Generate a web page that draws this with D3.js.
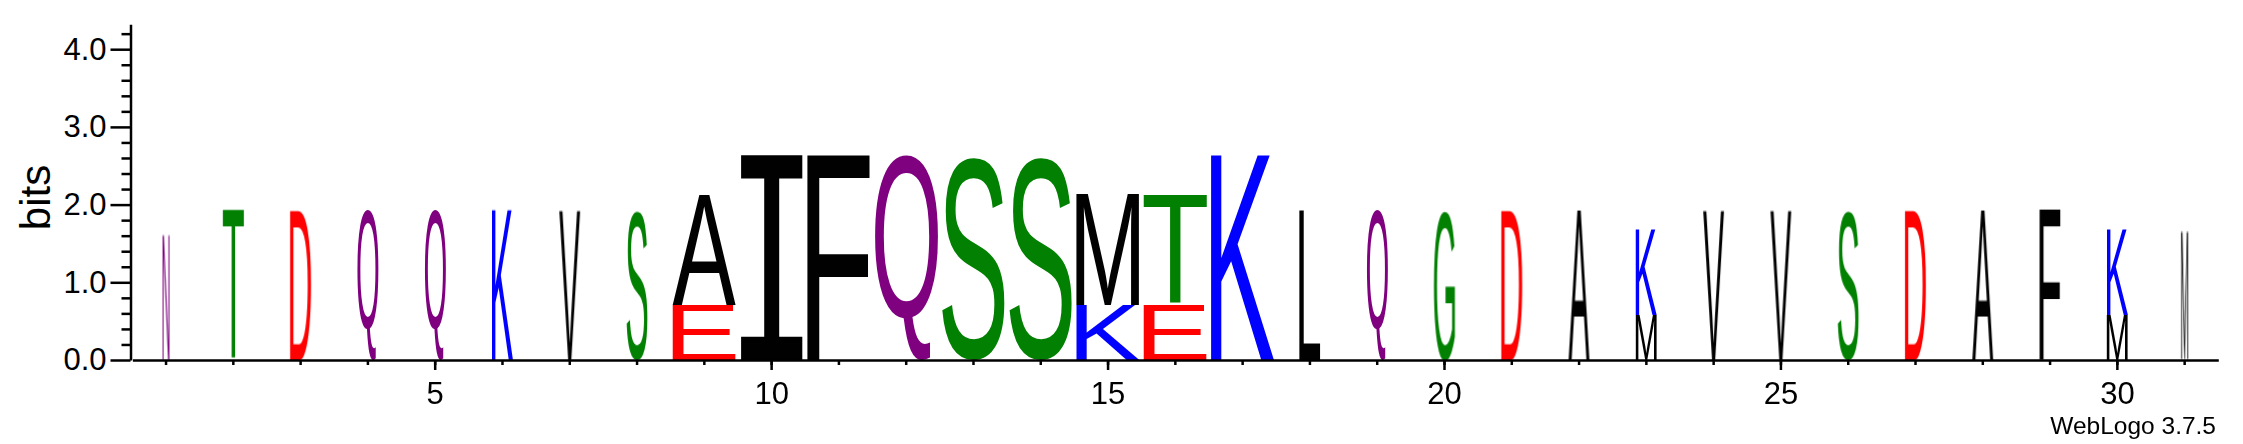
<!DOCTYPE html>
<html>
<head>
<meta charset="utf-8">
<script src="https://cdn.jsdelivr.net/npm/d3@7"></script>
<style>
  body { margin: 0; background: #fff; }
  svg text { font-family: "Liberation Sans", Arial, sans-serif; }
  .axis path, .axis line { stroke: #000; stroke-width: 2.5; }
  .axis text { font-size: 31px; fill: #000; }
</style>
</head>
<body>
<svg id="logo"></svg>
<script>
// sequence positions
const positions = [1, 2, 3, 4, 5, 6, 7, 8, 9, 10, 11, 12, 13, 14, 15, 16,
                   17, 18, 19, 20, 21, 22, 23, 24, 25, 26, 27, 28, 29, 30, 31];

// residues in each stack, bottom to top
const stackSymbols = [
  ["N"], ["T"], ["D"], ["Q"], ["Q"], ["K"], ["V"], ["S"],
  ["E", "A"], ["I"], ["F"], ["Q"], ["S"], ["S"], ["K", "M"], ["E", "T"], ["K"],
  ["L"], ["Q"], ["G"], ["D"], ["A"], ["M", "K"], ["V"], ["V"], ["S"], ["D"],
  ["A"], ["F"], ["M", "K"], ["M"]
];

// height of each residue (bits), same order as stackSymbols
const stackBits = [
  [1.63], [1.93], [1.93], [1.93], [1.93], [1.93], [1.93], [1.93],
  [0.71, 1.42], [2.64], [2.64], [2.64], [2.64], [2.64], [0.71, 1.44], [0.71, 1.41], [2.64],
  [1.93], [1.93], [1.93], [1.93], [1.93], [0.58, 1.11], [1.93], [1.93], [1.93], [1.93],
  [1.93], [1.93], [0.58, 1.11], [1.63]
];

// fraction of non-gap sequences at each position (stack width)
const stackWeights = [
  0.111, 0.333, 0.333, 0.333, 0.333, 0.333, 0.333, 0.333,
  1, 1, 1, 1, 1, 1, 1, 1, 1,
  0.333, 0.333, 0.333, 0.333, 0.333, 0.333, 0.333, 0.333, 0.333, 0.333,
  0.333, 0.333, 0.333, 0.111
];

const yMajorTicks = [0, 1, 2, 3, 4];
const yMinorTicks = [0.2, 0.4, 0.6, 0.8, 1.2, 1.4, 1.6, 1.8, 2.2, 2.4, 2.6, 2.8,
                     3.2, 3.4, 3.6, 3.8, 4.2];
const xLabelTicks = [5, 10, 15, 20, 25, 30];
const maxBits = 4.32;

const residueColor = {
  G: "#008000", S: "#008000", T: "#008000", Y: "#008000", C: "#008000",
  N: "#800080", Q: "#800080",
  K: "#0000ff", R: "#0000ff", H: "#0000ff",
  D: "#ff0000", E: "#ff0000"
};

const W = 2243, H = 444;
const svg = d3.select("#logo").attr("width", W).attr("height", H);

const x = d3.scaleBand().domain(positions).range([132.4, 2218.3]).padding(0);
const y = d3.scaleLinear().domain([0, maxBits]).range([360, 360 - maxBits * 77.7]);

// ink bounds of a glyph, measured on a canvas
const ctx = document.createElement("canvas").getContext("2d");
function glyphFont(ch) {
  return ch === "I" ? '"DejaVu Sans Mono", monospace' : '"Liberation Sans", Arial, sans-serif';
}
function inkBox(ch) {
  ctx.font = `100px ${glyphFont(ch)}`;
  const m = ctx.measureText(ch);
  return {
    left: -m.actualBoundingBoxLeft,
    right: m.actualBoundingBoxRight,
    top: -m.actualBoundingBoxAscent,
    bottom: m.actualBoundingBoxDescent
  };
}

const letters = [];
positions.forEach((p, i) => {
  let acc = 0;
  stackSymbols[i].forEach((s, j) => {
    const b = stackBits[i][j];
    letters.push({ pos: p, sym: s, y0: acc, y1: acc + b, weight: stackWeights[i] });
    acc += b;
  });
});

const stacks = svg.append("g").attr("opacity", 0.999);
stacks.selectAll("text")
  .data(letters)
  .enter().append("text")
  .attr("x", 0)
  .attr("y", 0)
  .style("font-family", d => glyphFont(d.sym))
  .style("font-size", "100px")
  .attr("fill", d => residueColor[d.sym] || "#000")
  .attr("transform", d => {
    const ink = inkBox(d.sym);
    const w = x.bandwidth() * 0.944 * d.weight;
    const h = y(d.y0) - y(d.y1);
    const x0 = x(d.pos) + x.bandwidth() / 2 - w / 2;
    const sx = w / (ink.right - ink.left);
    const sy = h / (ink.bottom - ink.top);
    return `translate(${x0},${y(d.y1)}) scale(${sx},${sy}) translate(${-ink.left},${-ink.top})`;
  })
  .text(d => d.sym);

// y axis
const yAxisX = 130.5;
svg.append("g")
  .attr("class", "axis")
  .attr("transform", `translate(${yAxisX},0)`)
  .call(d3.axisLeft(y).tickValues(yMinorTicks).tickSize(9).tickSizeOuter(0).tickFormat(""));
svg.append("g")
  .attr("class", "axis")
  .attr("transform", `translate(${yAxisX},0)`)
  .call(d3.axisLeft(y).tickValues(yMajorTicks).tickSize(20).tickSizeOuter(0)
    .tickPadding(4).tickFormat(d3.format(".1f")))
  .call(g => g.select(".domain").remove());

svg.append("text")
  .attr("transform", "translate(50,197.5) rotate(-90)")
  .attr("text-anchor", "middle")
  .style("font-size", "42px")
  .text("bits");

// x axis
svg.append("g")
  .attr("class", "axis")
  .attr("transform", `translate(0,${y(0)})`)
  .call(d3.axisBottom(x).tickSize(5).tickSizeOuter(0).tickFormat(""));
svg.append("g")
  .attr("class", "axis")
  .attr("transform", `translate(0,${y(0)})`)
  .call(d3.axisBottom(x).tickValues(xLabelTicks).tickSize(10).tickSizeOuter(0).tickPadding(12))
  .call(g => g.select(".domain").remove());

svg.append("text")
  .attr("x", 2216)
  .attr("y", 434)
  .attr("text-anchor", "end")
  .style("font-size", "24.5px")
  .text("WebLogo 3.7.5");
</script>
</body>
</html>
